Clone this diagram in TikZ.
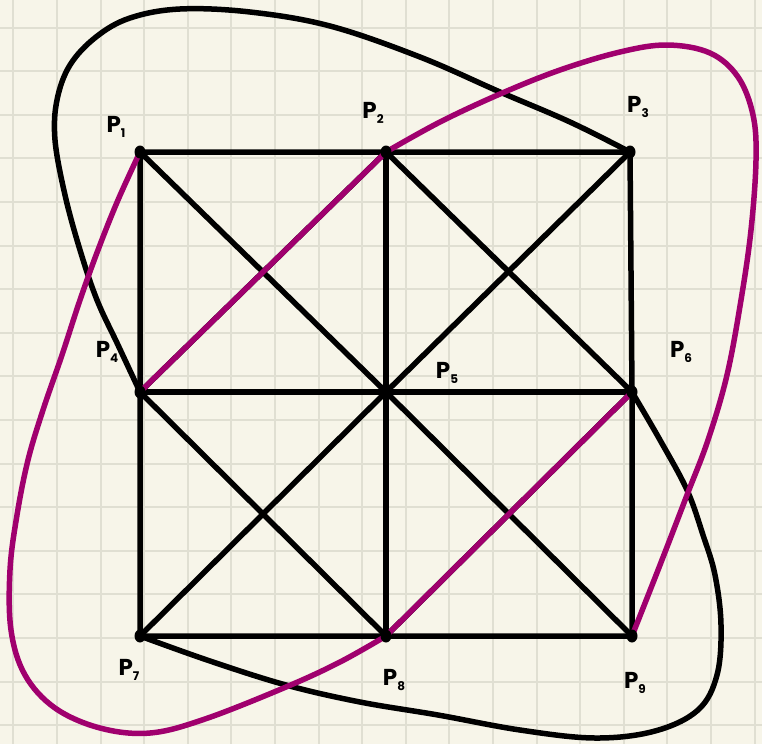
\documentclass[tikz,border=0pt]{standalone}
\usepackage{fontspec}
\setmainfont{Poppins}
\definecolor{paper}{RGB}{247,245,233}
\definecolor{gridc}{RGB}{224,223,210}
\definecolor{mag}{RGB}{160,0,110}
\begin{document}
\begin{tikzpicture}[x=1pt,y=-1pt,
  ink/.style={line width=5.5pt,line cap=round,line join=round},
  blk/.style={ink,black},
  pinkline/.style={ink,mag},
  gridline/.style={gridc,line width=2pt},
  dot/.style={black},
  lbl/.style={font=\bfseries\fontsize{23}{23}\selectfont,inner sep=0pt}]
\fill[paper] (0,0) rectangle (762,744);
\useasboundingbox (0,0) rectangle (762,744);
\foreach \i in {0,...,17} \draw[gridline] ({13.3+43.6*\i},0) -- ({13.3+43.6*\i},744);
\foreach \j in {0,...,16} \draw[gridline] (0,{27.5+43.6*\j}) -- (762,{27.5+43.6*\j});

\coordinate (p1) at (140,152);
\coordinate (p2) at (386,152);
\coordinate (p3) at (630,152);
\coordinate (p4) at (140,392);
\coordinate (p5) at (386,392);
\coordinate (p6) at (632,392);
\coordinate (p7) at (140,636);
\coordinate (p8) at (386,636);
\coordinate (p9) at (632,636);

% square grid and diagonals
\draw[blk] (p1) -- (p2) -- (p3) -- (p6) -- (p9) -- (p8) -- (p7) -- (p4) -- cycle;
\draw[blk] (p2) -- (p5) -- (p8);
\draw[blk] (p4) -- (p5) -- (p6);
\draw[blk] (p1) -- (p5) -- (p9);
\draw[blk] (p3) -- (p5) -- (p7);
\draw[blk] (p2) -- (p6) -- (p8) -- (p4) -- cycle;

% black curves
\draw[blk] plot[smooth,tension=0.6] coordinates {(p4) (118,345) (97,300) (80,250) (65,195) (55,140) (57,100) (70,65) (96,37) (130,18) (180,9) (250,12) (330,26) (420,57) (500,92) (570,122) (p3)};
\draw[blk] plot[smooth,tension=0.6] coordinates {(p6) (660,440) (687,490) (703,535) (715,575) (721,625) (717,675) (698,710) (655,731) (595,738) (520,730) (438,715) (360,702) (286,685) (210,661) (p7)};

% magenta strokes
\draw[pinkline] (p4) -- (p2);
\draw[pinkline] plot[smooth,tension=0.6] coordinates {(p2) (440,122) (500,94) (560,70) (620,52) (667,45) (710,53) (738,77) (753,115) (756,160) (751,230) (741,300) (727,375) (708,440) (687,495) (660,565) (p9)};
\draw[pinkline] plot[smooth,tension=0.6] coordinates {(p1) (118,200) (98,250) (80,300) (62,355) (43,410) (28,460) (17,515) (10,570) (11,630) (25,675) (55,708) (100,728) (150,733) (205,719) (286,687) (340,662) (p8)};
\draw[pinkline] (p8) -- (p6);

% dots
\foreach \p in {p1,p2,p3,p4,p5,p6,p7,p8,p9} \fill[dot] (\p) ellipse (5.5pt and 6.5pt);

% labels
\node[lbl] (l1) at (116,127) {P\raisebox{-0.4ex}{\large 1}};
\node[lbl] (l2) at (373,113) {P\raisebox{-0.4ex}{\large 2}};
\node[lbl] (l3) at (638,107) {P\raisebox{-0.4ex}{\large 3}};
\node[lbl] (l4) at (107,352) {P\raisebox{-0.4ex}{\large 4}};
\node[lbl] (l5) at (447,373) {P\raisebox{-0.4ex}{\large 5}};
\node[lbl] (l6) at (681,352) {P\raisebox{-0.4ex}{\large 6}};
\node[lbl] (l7) at (129,670) {P\raisebox{-0.4ex}{\large 7}};
\node[lbl] (l8) at (394,680) {P\raisebox{-0.4ex}{\large 8}};
\node[lbl] (l9) at (635,683) {P\raisebox{-0.4ex}{\large 9}};
\end{tikzpicture}
\end{document}
